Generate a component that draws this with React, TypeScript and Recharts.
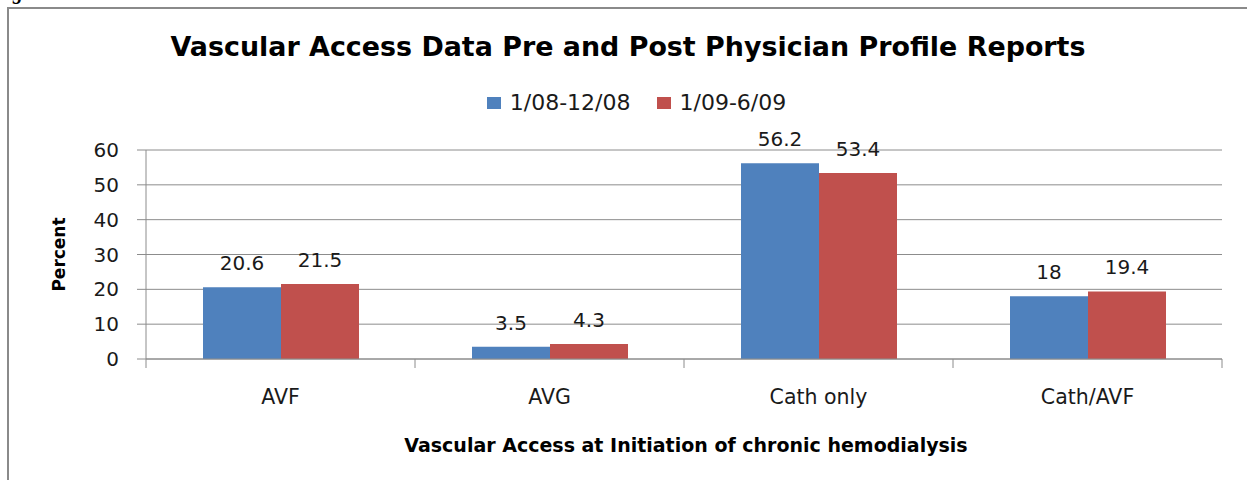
import React from "react"
import { Bar, BarChart, CartesianGrid, Customized, LabelList, XAxis, YAxis } from "recharts"

const categories = ["AVF", "AVG", "Cath only", "Cath/AVF"]
const preValues = [20.6, 3.5, 56.2, 18]
const postValues = [21.5, 4.3, 53.4, 19.4]
const seriesNames = ["1/08-12/08", "1/09-6/09"]
const yTicks = [0, 10, 20, 30, 40, 50, 60]

const COLORS = ["#4F81BD", "#C0504D"]
const GRID = "#8c8c8c"
const TEXT = "#1a1a1a"
const FONT = "'DejaVu Sans', 'Open Sans', sans-serif"

const data = categories.map((category, i) => ({
  category,
  pre: preValues[i],
  post: postValues[i],
}))

function CategoryTick(props: any) {
  const { x, y, payload, index, width } = props
  const half = payload && payload.offset ? payload.offset : width / categories.length / 2
  return (
    <g>
      <line x1={x - half} y1={y} x2={x - half} y2={y + 9} stroke={GRID} />
      {index === categories.length - 1 && <line x1={x + half} y1={y} x2={x + half} y2={y + 9} stroke={GRID} />}
      <text x={x} y={y + 45} textAnchor="middle" fill={TEXT} fontSize={20.5} fontFamily={FONT}>
        {payload.value}
      </text>
    </g>
  )
}

function ChartTitle() {
  return (
    <g>
      <text x={-6} y={-1} fontFamily="'Liberation Serif', serif" fontStyle="italic" fontWeight="bold" fontSize={20} fill="#000">
        Figure
      </text>
      <text x={628} y={56} textAnchor="middle" fontFamily={FONT} fontWeight="bold" fontSize={26.9} fill="#000">
        Vascular Access Data Pre and Post Physician Profile Reports
      </text>
    </g>
  )
}

function LegendRow() {
  return (
    <div
      style={{
        position: "absolute",
        top: 91,
        left: 0,
        width: 1247,
        paddingLeft: 26,
        boxSizing: "border-box",
        display: "flex",
        justifyContent: "center",
        fontFamily: FONT,
        fontSize: 22,
        lineHeight: "24px",
        color: TEXT,
      }}
    >
      {seriesNames.map((name, i) => (
        <div key={name} style={{ display: "flex", alignItems: "center", marginLeft: i ? 26 : 0 }}>
          <span style={{ width: 14, height: 12, background: COLORS[i], marginRight: 9, display: "inline-block" }} />
          <span>{name}</span>
        </div>
      ))}
    </div>
  )
}

export default function App() {
  return (
    <div style={{ position: "absolute", left: 0, top: 0, width: 1247, height: 480, overflow: "hidden", background: "#fff" }}>
      <div
        style={{
          position: "absolute",
          left: 7,
          top: 7,
          width: 1300,
          height: 520,
          borderTop: "2px solid #8a8a8a",
          borderLeft: "2px solid #8a8a8a",
        }}
      />
      <div style={{ position: "absolute", left: 0, top: 0 }}>
        <BarChart
          width={1247}
          height={480}
          data={data}
          margin={{ top: 150, right: 25, bottom: 0, left: 0 }}
          barCategoryGap={57}
          barGap={0}
        >
          <CartesianGrid vertical={false} stroke={GRID} strokeDasharray="" />
          <XAxis
            dataKey="category"
            height={121}
            interval={0}
            tickLine={false}
            tickSize={0}
            tickMargin={0}
            axisLine={{ stroke: GRID }}
            tick={<CategoryTick />}
            label={{
              content: ({ viewBox }: any) => (
                <text
                  x={viewBox.x + viewBox.width / 2 + 2}
                  y={viewBox.y + 93}
                  textAnchor="middle"
                  fontFamily={FONT}
                  fontWeight="bold"
                  fontSize={19}
                  fill="#000"
                >
                  Vascular Access at Initiation of chronic hemodialysis
                </text>
              ),
            }}
          />
          <YAxis
            width={146}
            domain={[0, 60]}
            ticks={yTicks}
            interval={0}
            tickSize={9}
            tickMargin={18}
            axisLine={{ stroke: GRID }}
            tickLine={{ stroke: GRID }}
            tick={{ fill: TEXT, fontSize: 20, fontFamily: FONT }}
            label={{
              content: ({ viewBox }: any) => {
                const cx = viewBox.x + 59
                const cy = viewBox.y + viewBox.height / 2
                return (
                  <text
                    x={cx}
                    y={cy}
                    transform={`rotate(-90 ${cx} ${cy})`}
                    textAnchor="middle"
                    dominantBaseline="central"
                    fontFamily={FONT}
                    fontWeight="bold"
                    fontSize={17}
                    fill="#000"
                  >
                    Percent
                  </text>
                )
              },
            }}
          />
          <Bar dataKey="pre" name={seriesNames[0]} fill={COLORS[0]} isAnimationActive={false}>
            <LabelList dataKey="pre" position="top" offset={17} fill={TEXT} fontSize={20} fontFamily={FONT} />
          </Bar>
          <Bar dataKey="post" name={seriesNames[1]} fill={COLORS[1]} isAnimationActive={false}>
            <LabelList dataKey="post" position="top" offset={17} fill={TEXT} fontSize={20} fontFamily={FONT} />
          </Bar>
          <Customized component={ChartTitle} />
        </BarChart>
      </div>
      <LegendRow />
    </div>
  )
}
